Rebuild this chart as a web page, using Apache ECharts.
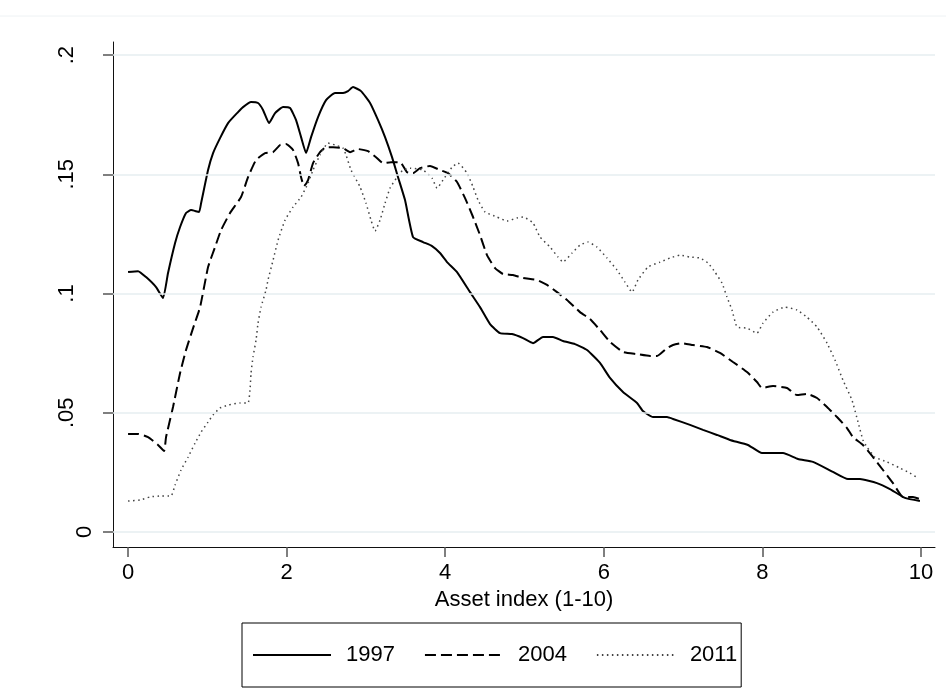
<!DOCTYPE html>
<html><head><meta charset="utf-8">
<script src="https://cdn.jsdelivr.net/npm/echarts@6/dist/echarts.min.js"></script>
<style>html,body{margin:0;padding:0;background:#fff}#c{width:946px;height:690px}</style>
</head><body><div id="c"></div>
<script>
const years = ['1997', '2004', '2011'];
const xTitle = 'Asset index (1-10)';
const xTicks = [0, 2, 4, 6, 8, 10];
const yTicksAll = [0, 0.05, 0.1, 0.15, 0.2];
const yTickZero = [0];
const yTicksRest = [0.05, 0.1, 0.15, 0.2];
const yTickText = {'0.00': '0', '0.05': '.05', '0.10': '.1', '0.15': '.15', '0.20': '.2'};

const x1997 = [0,0.126,0.227,0.353,0.441,0.504,0.593,0.656,0.731,0.794,0.895,0.921,1.009,1.072,1.160,1.261,1.387,1.450,1.551,1.639,1.702,1.778,1.854,1.955,2.043,2.119,2.182,2.245,2.308,2.396,2.497,2.610,2.711,2.774,2.837,2.938,3.052,3.153,3.241,3.329,3.405,3.493,3.594,3.720,3.834,3.934,4.023,4.149,4.313,4.439,4.565,4.691,4.842,4.981,5.107,5.233,5.359,5.485,5.637,5.788,5.952,6.078,6.242,6.419,6.494,6.620,6.797,6.873,7.087,7.251,7.427,7.591,7.818,7.995,8.260,8.449,8.638,8.890,9.079,9.231,9.445,9.609,9.798,9.987];
const y1997 = [0.1090,0.1094,0.1069,0.1027,0.0981,0.1086,0.1212,0.1279,0.1338,0.1350,0.1342,0.1379,0.1518,0.1589,0.1652,0.1715,0.1761,0.1782,0.1803,0.1799,0.1770,0.1715,0.1757,0.1782,0.1778,0.1727,0.1656,0.1589,0.1656,0.1740,0.1811,0.1841,0.1841,0.1849,0.1866,0.1849,0.1799,0.1727,0.1656,0.1572,0.1488,0.1392,0.1237,0.1216,0.1199,0.1170,0.1132,0.1090,0.1006,0.0943,0.0872,0.0834,0.0830,0.0813,0.0792,0.0818,0.0818,0.0801,0.0788,0.0763,0.0709,0.0646,0.0587,0.0541,0.0507,0.0482,0.0482,0.0474,0.0449,0.0428,0.0407,0.0386,0.0365,0.0331,0.0331,0.0306,0.0294,0.0252,0.0222,0.0222,0.0205,0.0180,0.0143,0.0130];

const x2004 = [0,0.126,0.252,0.378,0.454,0.479,0.567,0.656,0.731,0.820,0.908,1.009,1.097,1.173,1.286,1.425,1.513,1.614,1.728,1.828,1.917,1.992,2.081,2.144,2.182,2.219,2.270,2.333,2.421,2.497,2.585,2.711,2.800,2.900,3.026,3.127,3.216,3.317,3.430,3.518,3.594,3.682,3.808,3.934,4.035,4.149,4.250,4.351,4.439,4.527,4.628,4.729,4.855,4.981,5.158,5.284,5.410,5.536,5.700,5.826,5.952,6.078,6.242,6.419,6.583,6.671,6.797,6.873,6.986,7.125,7.301,7.465,7.629,7.806,7.932,7.995,8.134,8.310,8.436,8.562,8.689,8.815,8.941,9.067,9.142,9.268,9.395,9.521,9.647,9.773,9.899,9.987];
const y2004 = [0.0411,0.0411,0.0398,0.0365,0.0340,0.0398,0.0524,0.0667,0.0763,0.0855,0.0943,0.1111,0.1195,0.1266,0.1338,0.1405,0.1488,0.1560,0.1589,0.1593,0.1623,0.1627,0.1602,0.1547,0.1488,0.1451,0.1476,0.1547,0.1593,0.1614,0.1614,0.1610,0.1593,0.1606,0.1597,0.1572,0.1547,0.1551,0.1551,0.1509,0.1505,0.1526,0.1535,0.1518,0.1505,0.1468,0.1400,0.1321,0.1245,0.1161,0.1107,0.1082,0.1078,0.1065,0.1057,0.1036,0.1006,0.0973,0.0922,0.0893,0.0847,0.0797,0.0755,0.0746,0.0738,0.0738,0.0771,0.0784,0.0792,0.0784,0.0776,0.0751,0.0713,0.0671,0.0629,0.0604,0.0612,0.0604,0.0574,0.0579,0.0562,0.0524,0.0482,0.0436,0.0398,0.0365,0.0314,0.0260,0.0205,0.0147,0.0147,0.0138];

const x2011 = [0,0.151,0.277,0.416,0.542,0.593,0.668,0.757,0.845,0.921,1.009,1.072,1.160,1.261,1.412,1.513,1.538,1.551,1.576,1.614,1.639,1.677,1.740,1.765,1.829,1.892,1.980,2.081,2.182,2.270,2.333,2.421,2.522,2.610,2.711,2.749,2.812,2.926,3.001,3.064,3.115,3.178,3.241,3.304,3.392,3.468,3.556,3.720,3.834,3.897,3.972,4.086,4.161,4.275,4.351,4.414,4.502,4.653,4.779,4.905,4.981,5.107,5.195,5.322,5.422,5.485,5.599,5.700,5.801,5.914,6.040,6.166,6.267,6.356,6.431,6.557,6.709,6.835,6.961,7.087,7.213,7.314,7.402,7.491,7.554,7.617,7.680,7.806,7.932,8.008,8.134,8.285,8.436,8.562,8.689,8.815,8.916,9.016,9.130,9.206,9.268,9.319,9.420,9.571,9.735,9.861,9.962];
const y2011 = [0.0130,0.0134,0.0147,0.0151,0.0151,0.0197,0.0260,0.0314,0.0373,0.0419,0.0461,0.0491,0.0520,0.0532,0.0541,0.0541,0.0595,0.0667,0.0734,0.0805,0.0876,0.0943,0.1015,0.1057,0.1140,0.1224,0.1308,0.1363,0.1405,0.1463,0.1518,0.1581,0.1631,0.1623,0.1610,0.1581,0.1518,0.1447,0.1379,0.1308,0.1262,0.1308,0.1379,0.1442,0.1488,0.1518,0.1526,0.1518,0.1484,0.1442,0.1476,0.1530,0.1547,0.1505,0.1447,0.1392,0.1342,0.1321,0.1304,0.1317,0.1321,0.1296,0.1237,0.1195,0.1153,0.1132,0.1170,0.1203,0.1216,0.1195,0.1149,0.1099,0.1048,0.1006,0.1057,0.1111,0.1132,0.1149,0.1161,0.1153,0.1149,0.1128,0.1090,0.1044,0.0985,0.0931,0.0860,0.0855,0.0834,0.0876,0.0922,0.0943,0.0931,0.0901,0.0860,0.0792,0.0721,0.0637,0.0553,0.0461,0.0386,0.0356,0.0314,0.0294,0.0268,0.0247,0.0226];

const FONT = '"Liberation Sans", Arial, Helvetica, sans-serif';
const FS = 22;
const xMin = -0.19, xMax = 10.177, yMin = -0.0063, yMax = 0.2055;
const pair = (xs, ys) => xs.map((v, i) => [v, ys[i]]);
const fmtY = v => yTickText[Number(v).toFixed(2)] || '';

const chart = echarts.init(document.getElementById('c'), null, {renderer: 'canvas'});
chart.setOption({
  animation: false,
  backgroundColor: '#fff',
  grid: {left: 113, right: 11, top: 42, bottom: 143, containLabel: false},
  graphic: [{type: 'line', shape: {x1: 0, y1: 16, x2: 946, y2: 16}, style: {stroke: '#eef2f4', lineWidth: 1}, silent: true}],
  xAxis: {
    type: 'value', min: xMin, max: xMax,
    axisLine: {show: true, onZero: false, lineStyle: {color: '#111', width: 1}},
    axisTick: {show: true, length: 10, customValues: xTicks, lineStyle: {color: '#555', width: 1.5}},
    axisLabel: {customValues: xTicks, margin: 15, fontSize: FS, color: '#000', fontFamily: FONT, formatter: v => String(v)},
    splitLine: {show: false},
    name: xTitle, nameLocation: 'middle', nameGap: 39,
    nameTextStyle: {fontSize: FS, color: '#000', fontFamily: FONT}
  },
  yAxis: [{
    type: 'value', min: yMin, max: yMax, position: 'left',
    axisLine: {show: true, onZero: false, lineStyle: {color: '#111', width: 1}},
    axisTick: {show: true, length: 10, customValues: yTicksAll, lineStyle: {color: '#555', width: 1.5}},
    axisLabel: {customValues: yTickZero, rotate: 90, margin: 17, fontSize: FS, color: '#000', fontFamily: FONT, formatter: fmtY},
    splitLine: {show: false}
  }, {
    type: 'value', min: yMin, max: yMax, position: 'left', offset: 0,
    axisLine: {show: false}, axisTick: {show: false},
    axisLabel: {customValues: yTicksRest, rotate: 90, margin: 35, fontSize: FS, color: '#000', fontFamily: FONT, formatter: fmtY},
    splitLine: {show: false}
  }],
  legend: {
    data: years, left: 242, top: 623, orient: 'horizontal',
    itemWidth: 78, itemHeight: 14, itemGap: 29,
    padding: [20, 4, 20, 10], borderColor: '#000', borderWidth: 1,
    selectedMode: false,
    itemStyle: {opacity: 0},
    textStyle: {fontSize: FS, lineHeight: 24, color: '#000', fontFamily: FONT, padding: [0, 0, 0, 10]}
  },
  series: [
    {
      name: 'grid', type: 'line', data: [], z: 1, silent: true,
      markLine: {
        silent: true, symbol: ['none', 'none'], label: {show: false},
        lineStyle: {color: '#e6eef1', width: 1.5, type: 'solid'},
        emphasis: {disabled: true},
        data: yTicksAll.map(v => ({yAxis: v}))
      }
    },
    {name: years[0], type: 'line', data: pair(x1997, y1997), symbol: 'none', smooth: 0.15, z: 3,
     lineStyle: {color: '#000', width: 2, type: 'solid'}, itemStyle: {color: '#000'}},
    {name: years[1], type: 'line', data: pair(x2004, y2004), symbol: 'none', smooth: 0.15, z: 3,
     lineStyle: {color: '#000', width: 2, type: [11, 5]}, itemStyle: {color: '#000'}},
    {name: years[2], type: 'line', data: pair(x2011, y2011), symbol: 'none', smooth: 0.15, z: 3,
     lineStyle: {color: '#444', width: 1.5, type: [1.5, 3.5]}, itemStyle: {color: '#444'}}
  ]
});
</script></body></html>
